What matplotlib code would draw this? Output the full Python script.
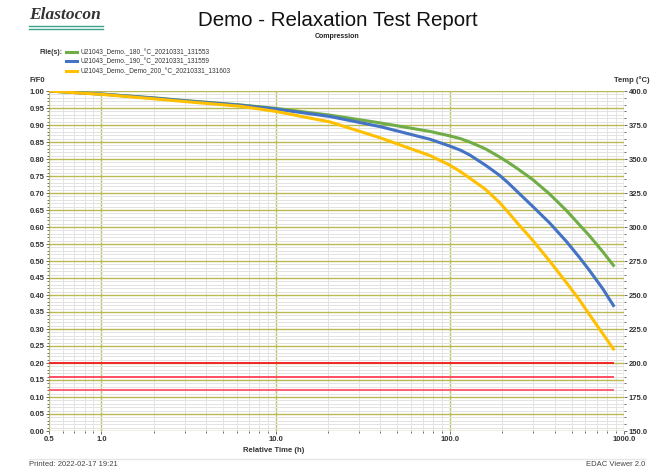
import matplotlib
matplotlib.use("Agg")
import matplotlib.pyplot as plt
from matplotlib.ticker import FixedLocator, MultipleLocator, FormatStrFormatter
from matplotlib.lines import Line2D

plt.rcParams['font.family'] = ['Liberation Sans', 'DejaVu Sans']
plt.rcParams['font.weight'] = 'bold'  # axis texts are bold, the few normal ones set below

# data
hours = [0.5, 1, 2, 3, 6.3, 10, 20.5, 40, 77, 100, 115, 130, 160, 193, 215, 244, 300, 374, 466, 556, 634, 756, 870]
ff0_180 = [1.000, 0.991, 0.980, 0.972, 0.959, 0.949, 0.929, 0.906, 0.881, 0.868, 0.860, 0.850, 0.830, 0.806,
           0.791, 0.772, 0.739, 0.697, 0.649, 0.606, 0.574, 0.527, 0.487]
ff0_190 = [1.000, 0.991, 0.979, 0.971, 0.958, 0.947, 0.925, 0.895, 0.858, 0.838, 0.826, 0.812, 0.782, 0.752,
           0.731, 0.704, 0.660, 0.612, 0.558, 0.510, 0.472, 0.418, 0.369]
ff0_200 = [1.000, 0.990, 0.977, 0.969, 0.955, 0.940, 0.909, 0.862, 0.810, 0.782, 0.763, 0.744, 0.711, 0.672,
           0.645, 0.612, 0.560, 0.500, 0.437, 0.385, 0.342, 0.286, 0.241]
labels = ["U21043_Demo._180_°C_20210331_131553",
          "U21043_Demo._190_°C_20210331_131559",
          "U21043_Demo._Demo_200_°C_20210331_131603"]
colors = ["#70ad47", "#4472c4", "#ffc000"]

temp_hours = [0.5, 870]
temp_200 = [200, 200]
temp_190 = [190, 190]
temp_180 = [180, 180]

W, H = 672, 471
fig = plt.figure(figsize=(W / 100, H / 100), dpi=100)
ax = fig.add_axes([49 / W, 1 - 431 / H, (624 - 49) / W, (431 - 91) / H])

lines = []
for y, c, lab in zip([ff0_180, ff0_190, ff0_200], colors, labels):
    l, = ax.plot(hours, y, color=c, lw=2.2, label=lab, zorder=5)
    lines.append(l)

ax.set_xscale('log')
ax.set_xlim(0.5, 1000)
ax.set_ylim(0, 1)
for s in ax.spines.values():
    s.set_visible(False)

ax.xaxis.set_major_locator(FixedLocator([0.5, 1, 10, 100, 1000]))
ax.xaxis.set_major_formatter(FormatStrFormatter('%.1f'))
ax.xaxis.set_minor_locator(FixedLocator([m * d for d in [0.1, 1, 10, 100] for m in range(2, 10) if 0.5 < m * d < 1000]))
ax.yaxis.set_major_locator(MultipleLocator(0.05))
ax.yaxis.set_minor_locator(MultipleLocator(0.01))
ax.yaxis.set_major_formatter(FormatStrFormatter('%.2f'))

ax.tick_params(which='both', colors='#555555', labelcolor='#333333', labelsize=5.5, pad=1)
ax.tick_params(which='major', length=2.5, width=0.6)
ax.tick_params(which='minor', length=1.5, width=0.6)

ax.set_axisbelow(True)
ax.grid(which='minor', color='#e3e3e3', lw=0.7)
ax.grid(which='major', axis='y', color='#dcdc96', lw=1.0)
ax.grid(which='major', axis='x', color='#c4c46a', lw=1.0)
for tk in ax.yaxis.get_major_ticks():
    v = tk.get_loc()
    if abs(v * 10 - round(v * 10)) < 1e-6:
        tk.gridline.set_color('#baba55')
for tk in ax.xaxis.get_major_ticks():
    if abs(tk.get_loc() - 0.5) < 1e-6:
        tk.gridline.set_visible(False)

ax2 = ax.twinx()
ax2.set_ylim(150, 400)
for s in ax2.spines.values():
    s.set_visible(False)
ax2.plot(temp_hours, temp_200, color='#f02828', lw=1.4)
ax2.plot(temp_hours, temp_190, color='#ff4d62', lw=1.4)
ax2.plot(temp_hours, temp_180, color='#ff5f74', lw=1.4)
ax2.yaxis.set_major_locator(MultipleLocator(25))
ax2.yaxis.set_minor_locator(MultipleLocator(5))
ax2.yaxis.set_major_formatter(FormatStrFormatter('%.1f'))
ax2.tick_params(which='both', colors='#555555', labelcolor='#333333', labelsize=5.5, pad=1)
ax2.tick_params(which='major', length=2.5, width=0.6)
ax2.tick_params(which='minor', length=1.5, width=0.6)

leg = ax.legend(handles=lines, loc='upper left', bbox_to_anchor=(66 / W, 1 - 48.5 / H),
                bbox_transform=fig.transFigure, frameon=False, prop={'size': 4.7, 'weight': 'normal'},
                handlelength=1.7, handletextpad=0.5, labelspacing=0.33,
                borderpad=0, borderaxespad=0)
for t in leg.get_texts():
    t.set_color('#333333')

# header / labels
fig.text(338 / W, 1 - 20 / H, "Demo - Relaxation Test Report", ha='center', va='center',
         fontsize=14.8, fontweight='normal', color='#111111')
fig.text(337 / W, 1 - 37 / H, "Compression", ha='center', va='center', fontsize=5, color='#222222')
fig.text(29 / W, 1 - 15 / H, "Elastocon", ha='left', va='center', fontsize=12.5,
         family='Liberation Serif', style='italic', color='#333333')
fig.add_artist(Line2D([29 / W, 103 / W], [1 - 26 / H] * 2, color='#3aa58c', lw=1.0))
fig.add_artist(Line2D([29 / W, 103 / W], [1 - 28.5 / H] * 2, color='#3aa58c', lw=1.0))
fig.text(40 / W, 1 - 52 / H, "File(s):", ha='left', va='center', fontsize=5, color='#333333')
fig.text(30 / W, 1 - 80 / H, "F/F0", ha='left', va='center', fontsize=5.5, color='#333333')
fig.text(614 / W, 1 - 80 / H, "Temp (°C)", ha='left', va='center', fontsize=5.5, color='#333333')
fig.text(274 / W, 1 - 451 / H, "Relative Time (h)", ha='center', va='center', fontsize=5.5, color='#333333')
fig.add_artist(Line2D([29 / W, 645 / W], [1 - 459 / H] * 2, color='#e6e6e6', lw=1.0))
fig.text(29 / W, 1 - 465 / H, "Printed: 2022-02-17 19:21", ha='left', va='center', fontsize=5.5,
         fontweight='normal', color='#444444')
fig.text(645 / W, 1 - 465 / H, "EDAC Viewer 2.0", ha='right', va='center', fontsize=5.5,
         fontweight='normal', color='#444444')

fig.savefig("out.png", dpi=100)
